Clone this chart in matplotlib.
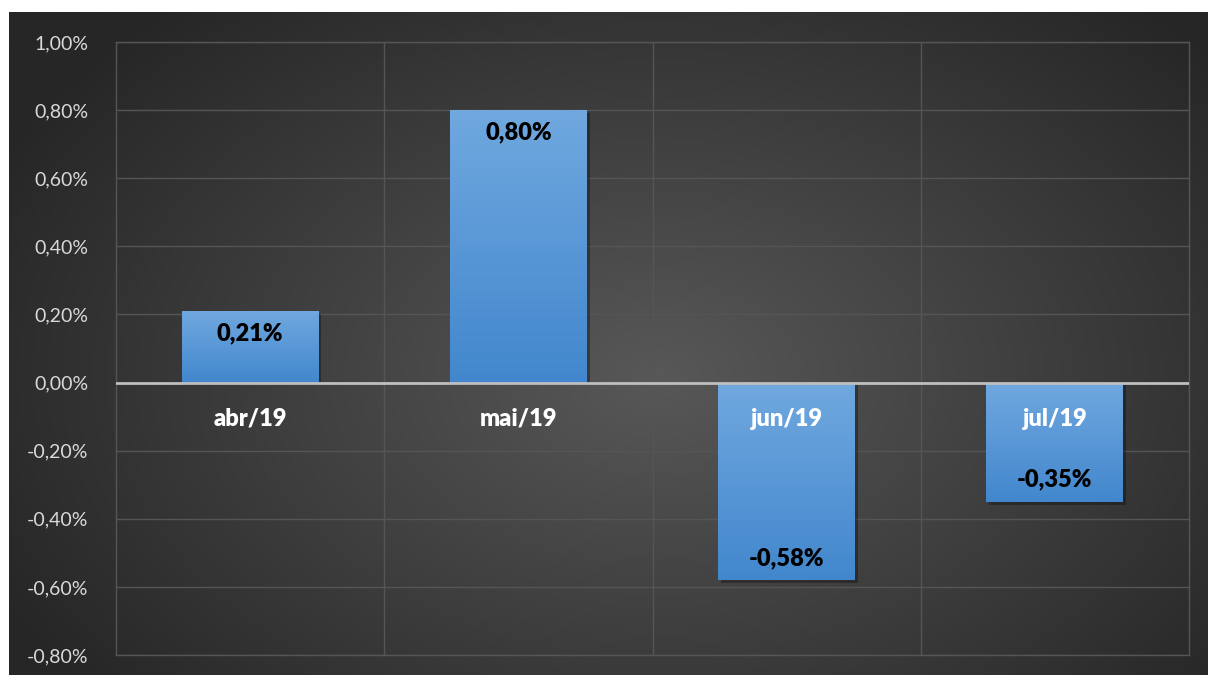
import numpy as np
import matplotlib.pyplot as plt
from matplotlib import patheffects as pe
from matplotlib.ticker import FuncFormatter, MultipleLocator

# dados
meses = ['abr/19', 'mai/19', 'jun/19', 'jul/19']
valores = [0.21, 0.80, -0.58, -0.35]

plt.rcParams['font.family'] = ['Lato', 'DejaVu Sans']

W, H = 1208, 675
fig = plt.figure(figsize=(W / 100, H / 100), dpi=100, facecolor='white')

# fundo escuro com gradiente radial
bg = fig.add_axes([9 / W, 0, (W - 9) / W, (H - 12) / H])
ny, nx = 300, 540
yy, xx = np.mgrid[0:ny, 0:nx]
cx, cy = nx * 0.54, ny * 0.55
r = np.sqrt(((xx - cx) / (nx * 0.62)) ** 2 + ((yy - cy) / (ny * 0.75)) ** 2)
r = np.clip(r, 0, 1)
centro = np.array([0x58, 0x58, 0x58]) / 255
borda = np.array([0x26, 0x26, 0x26]) / 255
img = centro[None, None, :] * (1 - r[..., None]) + borda[None, None, :] * r[..., None]
bg.imshow(img, aspect='auto', extent=[0, 1, 0, 1], origin='upper')
bg.set_axis_off()
bg.set_zorder(0)

ax = fig.add_axes([116 / W, 1 - 655 / H, (1189 - 116) / W, (655 - 42) / H])
ax.set_facecolor('none')
ax.set_zorder(1)

largura = 0.51
topo = np.array([0x70, 0xa8, 0xdf]) / 255
base = np.array([0x42, 0x87, 0xcd]) / 255
grad = np.linspace(0, 1, 100)[:, None, None]
grad_img = topo * (1 - grad) + base * grad
grad_img = np.repeat(grad_img, 2, axis=1)

x = np.arange(len(meses))
barras = ax.bar(x, valores, width=largura, color='#5b9bd5', zorder=3,
                path_effects=[pe.SimplePatchShadow(offset=(2, -2), shadow_rgbFace='black', alpha=0.3), pe.Normal()])
for xi, v, b in zip(x, valores, barras):
    im = ax.imshow(grad_img, aspect='auto', origin='upper', zorder=4,
                   extent=[xi - largura / 2, xi + largura / 2, min(0, v), max(0, v)])
    im.set_clip_path(b)
    txt = f'{v:.2f}%'.replace('.', ',')
    if v >= 0:
        ax.annotate(txt, (xi, v), xytext=(0, -8), textcoords='offset points',
                    ha='center', va='top', fontsize=17, fontweight='heavy', color='black', zorder=6)
    else:
        ax.annotate(txt, (xi, v), xytext=(0, 8), textcoords='offset points',
                    ha='center', va='bottom', fontsize=17, fontweight='heavy', color='black', zorder=6)
    ax.annotate(meses[xi], (xi, 0), xytext=(0, -26), textcoords='offset points',
                ha='center', va='center', fontsize=17, fontweight='heavy', color='white', zorder=6)

ax.set_xlim(-0.5, 3.5)
ax.set_ylim(-0.8, 1.0)
ax.yaxis.set_major_locator(MultipleLocator(0.2))
ax.yaxis.set_major_formatter(FuncFormatter(lambda v, p: f'{v:.2f}%'.replace('.', ',').replace('-0,00', '0,00')))
ax.set_xticks([])
ax.set_xticks([0.5, 1.5, 2.5], minor=True)
ax.tick_params(axis='x', which='both', length=0)
ax.tick_params(axis='y', length=0, labelsize=14, labelcolor='#d9d9d9', pad=20)
ax.grid(axis='y', which='major', color='#555555', linewidth=1, zorder=1)
ax.grid(axis='x', which='minor', color='#555555', linewidth=1, zorder=1)
for s in ax.spines.values():
    s.set_color('#555555')
    s.set_linewidth(1)
ax.axhline(0, color='#bfbfbf', linewidth=2, zorder=5)

fig.savefig('out.png', dpi=100, facecolor='white')
